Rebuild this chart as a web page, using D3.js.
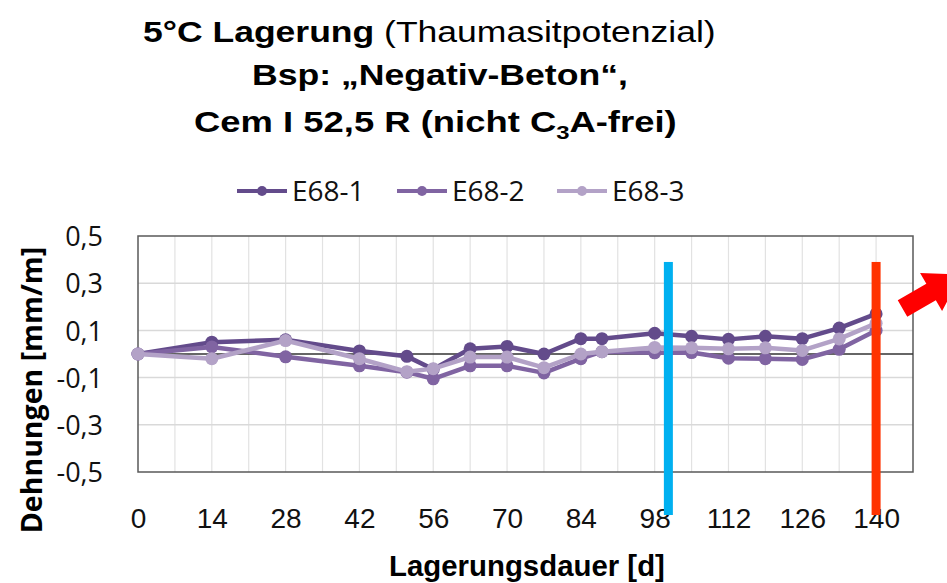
<!DOCTYPE html>
<html>
<head>
<meta charset="utf-8">
<script src="https://cdn.jsdelivr.net/npm/d3@7/dist/d3.min.js"></script>
<style>
  html, body { margin: 0; padding: 0; background: #fff; }
  svg { display: block; }
</style>
</head>
<body>
<svg id="chart" width="947" height="583"></svg>
<script>
// Storage time in days for each measurement
const days = [0, 14, 28, 42, 51, 56, 63, 70, 77, 84, 88, 98, 105, 112, 119, 126, 133, 140];

// Strain values [mm/m] per specimen
const e68_1 = [0, 0.05, 0.06, 0.013, -0.01, -0.065, 0.022, 0.032, 0.0, 0.065, 0.065, 0.088, 0.075, 0.062, 0.075, 0.065, 0.11, 0.17];
const e68_2 = [0, 0.03, -0.012, -0.05, -0.077, -0.105, -0.05, -0.05, -0.08, -0.02, 0.01, 0.005, 0.006, -0.018, -0.02, -0.023, 0.02, 0.10];
const e68_3 = [0, -0.02, 0.057, -0.02, -0.075, -0.062, -0.013, -0.013, -0.058, 0.0, 0.01, 0.028, 0.026, 0.022, 0.026, 0.015, 0.064, 0.13];

const seriesNames = ["E68-1", "E68-2", "E68-3"];
const seriesValues = [e68_1, e68_2, e68_3];
const seriesColors = ["#634b8b", "#8064a2", "#b3a2c7"];

const xTickValues = [0, 14, 28, 42, 56, 70, 84, 98, 112, 126, 140];
const xGridStep = 7;
const xMax = 147;
const yTickValues = [-0.5, -0.3, -0.1, 0.1, 0.3, 0.5];

// Vertical highlight bars (day of highlight)
const highlightDays = [100.6, 140];
const highlightColors = ["#00b0f0", "#ff3300"];

const svg = d3.select("#chart");

const plot = { left: 138, right: 913, top: 236, bottom: 472 };
const x = d3.scaleLinear().domain([0, xMax]).range([plot.left, plot.right]);
const y = d3.scaleLinear().domain([-0.5, 0.5]).range([plot.bottom, plot.top]);

const deLocale = d3.formatLocale({ decimal: ",", thousands: ".", grouping: [3], currency: ["", " €"], minus: "-" });
const fmt = deLocale.format(".1f");

// Fit a text element horizontally into a given span
function fitWidth(sel, left, width) {
  const node = sel.node();
  const w = node.getComputedTextLength();
  const s = width / w;
  const yPos = +sel.attr("y");
  sel.attr("x", 0).attr("y", 0)
     .attr("transform", `translate(${left},${yPos}) scale(${s},1)`);
}

// ---- Title ----
const titleFont = "'Liberation Sans Narrow', 'Liberation Sans', Arial, sans-serif";
const t1 = svg.append("text").attr("y", 42).attr("font-family", titleFont)
  .attr("font-size", 29).attr("fill", "#000");
t1.append("tspan").attr("font-weight", "bold").text("5°C Lagerung");
t1.append("tspan").text(" (Thaumasitpotenzial)");
fitWidth(t1, 143, 573);

const t2 = svg.append("text").attr("y", 85).attr("font-family", titleFont)
  .attr("font-size", 29).attr("font-weight", "bold").attr("fill", "#000")
  .text("Bsp: „Negativ-Beton“,");
fitWidth(t2, 252, 376);

const t3 = svg.append("text").attr("y", 132).attr("font-family", titleFont)
  .attr("font-size", 29).attr("font-weight", "bold").attr("fill", "#000");
t3.append("tspan").text("Cem I 52,5 R (nicht C");
t3.append("tspan").attr("font-size", 19).attr("dy", 7).text("3");
t3.append("tspan").attr("dy", -7).text("A-frei)");
fitWidth(t3, 194, 483);

// ---- Legend ----
const legendY = 191;
const legendLineX = [237, 397, 557];
const legend = svg.append("g");
seriesNames.forEach((name, i) => {
  const g = legend.append("g");
  g.append("line").attr("x1", legendLineX[i]).attr("x2", legendLineX[i] + 50)
    .attr("y1", legendY).attr("y2", legendY)
    .attr("stroke", seriesColors[i]).attr("stroke-width", 4);
  g.append("circle").attr("cx", legendLineX[i] + 25).attr("cy", legendY).attr("r", 5)
    .attr("fill", seriesColors[i]);
  g.append("text").attr("x", legendLineX[i] + 55).attr("y", legendY + 10)
    .attr("font-family", "'Open Sans', sans-serif").attr("font-size", 28)
    .attr("fill", "#111").text(name);
});

// ---- Grid ----
const grid = svg.append("g");
const xGrid = d3.range(xGridStep, xMax, xGridStep);
grid.selectAll("line.vg").data(xGrid).join("line").attr("class", "vg")
  .attr("x1", d => x(d)).attr("x2", d => x(d))
  .attr("y1", plot.top).attr("y2", plot.bottom)
  .attr("stroke", "#e2e2e2").attr("stroke-width", 1.2);
grid.selectAll("line.hg").data(yTickValues.filter(v => Math.abs(v) < 0.5)).join("line").attr("class", "hg")
  .attr("x1", plot.left).attr("x2", plot.right)
  .attr("y1", d => y(d)).attr("y2", d => y(d))
  .attr("stroke", "#d9d9d9").attr("stroke-width", 1.5);

// Plot border
svg.append("rect").attr("x", plot.left).attr("y", plot.top)
  .attr("width", plot.right - plot.left).attr("height", plot.bottom - plot.top)
  .attr("fill", "none").attr("stroke", "#595959").attr("stroke-width", 1.5);

// Zero line
svg.append("line").attr("x1", plot.left).attr("x2", plot.right)
  .attr("y1", y(0)).attr("y2", y(0)).attr("stroke", "#333").attr("stroke-width", 1.5);

// ---- Axes ----
const yAxis = svg.append("g").attr("transform", `translate(${plot.left - 35},0)`)
  .call(d3.axisLeft(y).tickValues(yTickValues).tickSize(0).tickPadding(0).tickFormat(fmt));
yAxis.select(".domain").remove();
yAxis.selectAll("text").attr("font-family", "'Open Sans', sans-serif")
  .attr("font-size", 27).attr("fill", "#111").attr("dy", "0.36em");

const xAxis = svg.append("g").attr("transform", `translate(0,${plot.bottom})`)
  .call(d3.axisBottom(x).tickValues(xTickValues).tickSize(0).tickPadding(0).tickFormat(d3.format("d")));
xAxis.select(".domain").remove();
xAxis.selectAll("text").attr("font-family", titleFont)
  .attr("font-size", 28).attr("fill", "#111").attr("dy", 0).attr("y", 56);

// Axis titles
const xt = svg.append("text").attr("y", 576).attr("font-family", titleFont)
  .attr("font-size", 30).attr("font-weight", "bold").attr("fill", "#000")
  .text("Lagerungsdauer [d]");
fitWidth(xt, 389, 276);

svg.append("text").attr("font-family", "'Open Sans', sans-serif")
  .attr("font-size", 28.5).attr("font-weight", "bold").attr("fill", "#000")
  .attr("text-anchor", "middle")
  .attr("transform", "translate(42,390) rotate(-90)")
  .text("Dehnungen [mm/m]");

// ---- Series ----
const line = d3.line().x(d => x(d[0])).y(d => y(d[1]));
seriesValues.forEach((vals, i) => {
  const pts = days.map((d, j) => [d, vals[j]]);
  const g = svg.append("g");
  g.append("path").attr("d", line(pts)).attr("fill", "none")
    .attr("stroke", seriesColors[i]).attr("stroke-width", 4.5)
    .attr("stroke-linejoin", "round");
  g.selectAll("circle").data(pts).join("circle")
    .attr("cx", d => x(d[0])).attr("cy", d => y(d[1])).attr("r", 6.5)
    .attr("fill", seriesColors[i]);
});

// ---- Highlight bars ----
highlightDays.forEach((d, i) => {
  svg.append("rect").attr("x", x(d) - 4.5).attr("width", 9)
    .attr("y", y(0.39)).attr("height", (plot.bottom + 43) - y(0.39))
    .attr("fill", highlightColors[i]);
});

// ---- Arrow at upper right ----
svg.append("path")
  .attr("d", "M0,-9.5 L33,-9.5 L33,-22 L68,0 L33,22 L33,9.5 L0,9.5 Z")
  .attr("transform", "translate(902.5,308.5) rotate(-30)")
  .attr("fill", "#ff0000");
</script>
</body>
</html>
